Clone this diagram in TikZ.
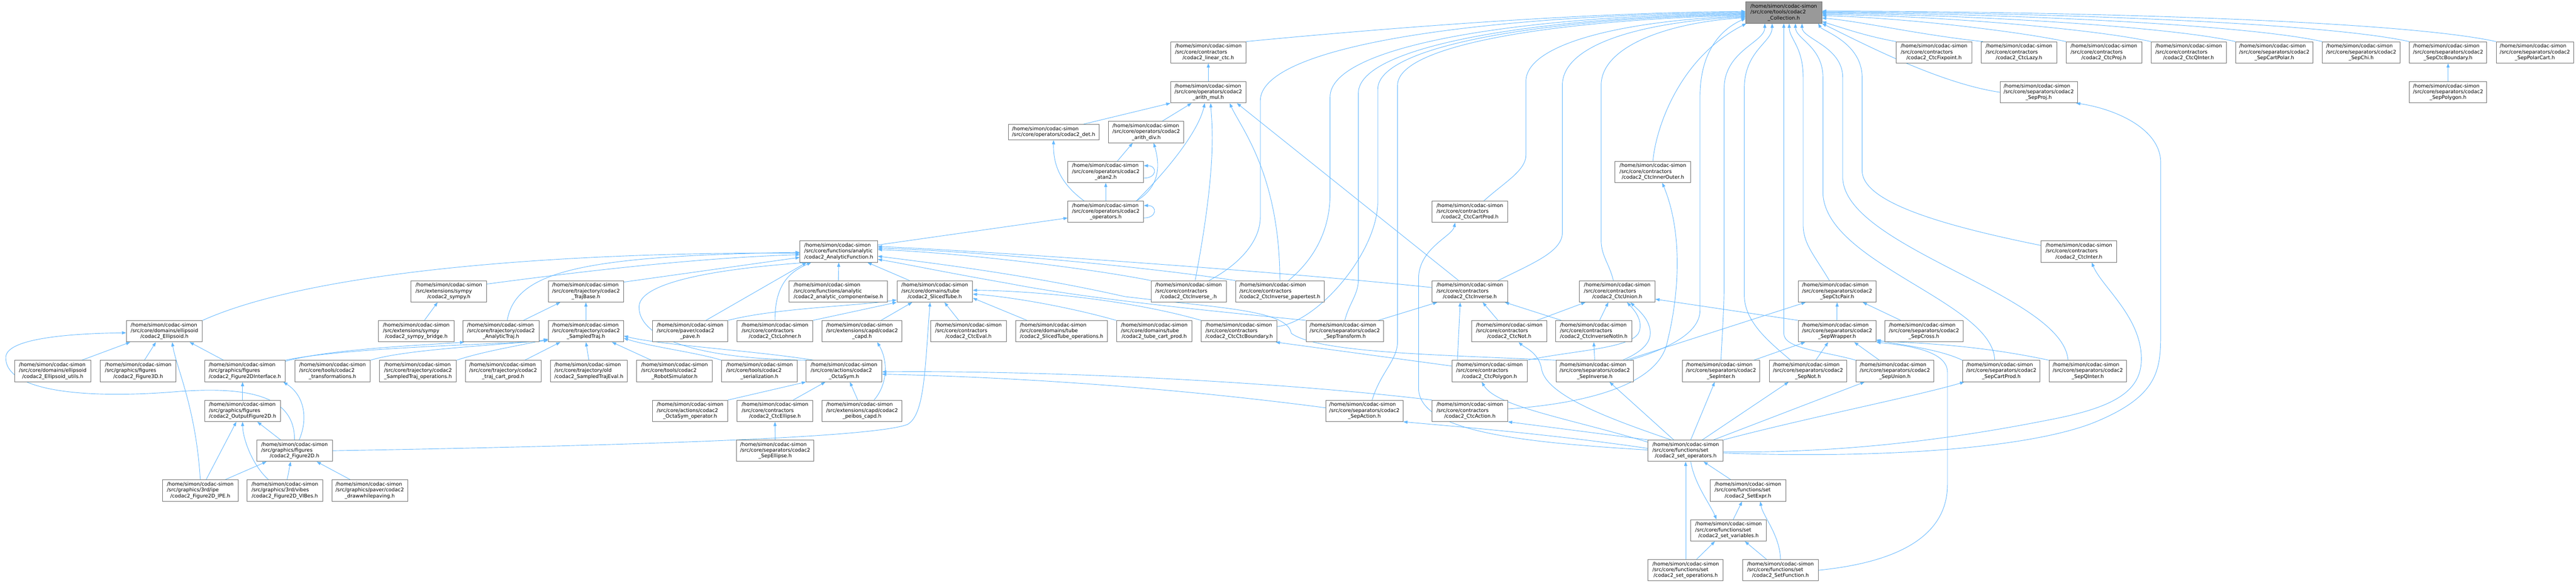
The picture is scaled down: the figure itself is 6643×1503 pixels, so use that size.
\documentclass[tikz,border=0pt]{standalone}
\usepackage{fontspec}
\setmainfont{DejaVu Sans}
\usetikzlibrary{arrows.meta,backgrounds}
\definecolor{edgeblue}{HTML}{63B8FF}
\definecolor{boxgray}{HTML}{6E6E6E}
\definecolor{rootgray}{HTML}{999999}
\newcommand{\doxfont}{\fontsize{13}{15}\selectfont}
\newcommand{\fl}[2]{\begin{tabular}{@{}l@{}}/home/simon/codac-simon\\#1\\\multicolumn{1}{@{}c@{}}{#2}\end{tabular}}

\begin{document}
\begin{tikzpicture}[x=1pt,y=-1pt,
    file/.style={draw=boxgray, line width=1.2pt, fill=white, minimum height=55pt, inner sep=0pt, font=\doxfont},
    dep/.style={draw=edgeblue, line width=1.2pt, -{Triangle[length=11pt,width=8pt]}}]
    \useasboundingbox (0,0) rectangle (6643,1503);

    % Text Node
    \node[file, fill=rootgray, minimum width=196pt] (root) at (4600,32.5) {\fl{/src/core/tools/codac2}{\_Collection.h}};
    % Text Node
    \node[file, minimum width=194pt] (linear) at (3116,135.25) {\fl{/src/core/contractors}{/codac2\_linear\_ctc.h}};
    \node[file, minimum width=195pt] (fixpoint) at (4987.5,135.25) {\fl{/src/core/contractors}{/codac2\_CtcFixpoint.h}};
    \node[file, minimum width=195pt] (lazy) at (5206.5,135.25) {\fl{/src/core/contractors}{/codac2\_CtcLazy.h}};
    \node[file, minimum width=195pt] (proj) at (5425.5,135.25) {\fl{/src/core/contractors}{/codac2\_CtcProj.h}};
    \node[file, minimum width=194pt] (qinter) at (5644,135.25) {\fl{/src/core/contractors}{/codac2\_CtcQInter.h}};
    \node[file, minimum width=200pt] (scartpolar) at (5865,135.25) {\fl{/src/core/separators/codac2}{\_SepCartPolar.h}};
    \node[file, minimum width=200pt] (schi) at (6089,135.25) {\fl{/src/core/separators/codac2}{\_SepChi.h}};
    \node[file, minimum width=200pt] (sctcbnd) at (6313,135.25) {\fl{/src/core/separators/codac2}{\_SepCtcBoundary.h}};
    \node[file, minimum width=200pt] (spolarcart) at (6537,135.25) {\fl{/src/core/separators/codac2}{\_SepPolarCart.h}};
    % Text Node
    \node[file, minimum width=194pt] (mul) at (3116,238) {\fl{/src/core/operators/codac2}{\_arith\_mul.h}};
    \node[file, minimum width=199pt] (sproj) at (5257.5,238) {\fl{/src/core/separators/codac2}{\_SepProj.h}};
    \node[file, minimum width=200pt] (spolygon) at (6313,238) {\fl{/src/core/separators/codac2}{\_SepPolygon.h}};
    % Text Node
    \node[file, minimum width=234pt, minimum height=40pt] (det) at (2717,340.75) {\begin{tabular}{@{}l@{}}/home/simon/codac-simon\\/src/core/operators/codac2\_det.h\end{tabular}};
    \node[file, minimum width=194pt] (div) at (2956,340.75) {\fl{/src/core/operators/codac2}{\_arith\_div.h}};
    % Text Node
    \node[file, minimum width=195pt] (atan) at (2851.5,443.5) {\fl{/src/core/operators/codac2}{\_atan2.h}};
    \node[file, minimum width=195pt] (innerouter) at (4262.5,443.5) {\fl{/src/core/contractors}{/codac2\_CtcInnerOuter.h}};
    % Text Node
    \node[file, minimum width=195pt] (ops) at (2851.5,546.25) {\fl{/src/core/operators/codac2}{\_operators.h}};
    \node[file, minimum width=195pt] (cartprod) at (3790.5,546.25) {\fl{/src/core/contractors}{/codac2\_CtcCartProd.h}};
    % Text Node
    \node[file, minimum width=200pt] (afunc) at (2163,649) {\fl{/src/core/functions/analytic}{/codac2\_AnalyticFunction.h}};
    \node[file, minimum width=196pt] (ctcinter) at (5361,649) {\fl{/src/core/contractors}{/codac2\_CtcInter.h}};
    % Text Node
    \node[file, minimum width=195pt] (sympy) at (1157.5,751.75) {\fl{/src/extensions/sympy}{/codac2\_sympy.h}};
    \node[file, minimum width=194pt] (trajbase) at (1511,751.75) {\fl{/src/core/trajectory/codac2}{\_TrajBase.h}};
    \node[file, minimum width=254pt] (compwise) at (2162,751.75) {\fl{/src/core/functions/analytic}{/codac2\_analytic\_componentwise.h}};
    \node[file, minimum width=195pt] (stube) at (2410.5,751.75) {\fl{/src/core/domains/tube}{/codac2\_SlicedTube.h}};
    \node[file, minimum width=194pt] (invu) at (3065,751.75) {\fl{/src/core/contractors}{/codac2\_CtcInverse\_.h}};
    \node[file, minimum width=229pt] (paper) at (3300.5,751.75) {\fl{/src/core/contractors}{/codac2\_CtcInverse\_papertest.h}};
    \node[file, minimum width=195pt] (inv) at (3790.5,751.75) {\fl{/src/core/contractors}{/codac2\_CtcInverse.h}};
    \node[file, minimum width=195pt] (cunion) at (4170.5,751.75) {\fl{/src/core/contractors}{/codac2\_CtcUnion.h}};
    \node[file, minimum width=201pt] (sctcpair) at (4737.5,751.75) {\fl{/src/core/separators/codac2}{\_SepCtcPair.h}};
    % Text Node
    \node[file, minimum width=196pt] (ellip) at (424,854.5) {\fl{/src/core/domains/ellipsoid}{/codac2\_Ellipsoid.h}};
    \node[file, minimum width=195pt] (sbridge) at (1073.5,854.5) {\fl{/src/extensions/sympy}{/codac2\_sympy\_bridge.h}};
    \node[file, minimum width=196pt] (atraj) at (1292,854.5) {\fl{/src/core/trajectory/codac2}{\_AnalyticTraj.h}};
    \node[file, minimum width=194pt] (straj) at (1511,854.5) {\fl{/src/core/trajectory/codac2}{\_SampledTraj.h}};
    \node[file, minimum width=195pt] (pave) at (1779.5,854.5) {\fl{/src/core/paver/codac2}{\_pave.h}};
    \node[file, minimum width=195pt] (lohner) at (1998.5,854.5) {\fl{/src/core/contractors}{/codac2\_CtcLohner.h}};
    \node[file, minimum width=206pt] (capd) at (2223,854.5) {\fl{/src/extensions/capd/codac2}{\_capd.h}};
    \node[file, minimum width=195pt] (eval) at (2497.5,854.5) {\fl{/src/core/contractors}{/codac2\_CtcEval.h}};
    \node[file, minimum width=237pt] (tubeops) at (2737.5,854.5) {\fl{/src/core/domains/tube}{/codac2\_SlicedTube\_operations.h}};
    \node[file, minimum width=195pt] (tubecart) at (2976.5,854.5) {\fl{/src/core/domains/tube}{/codac2\_tube\_cart\_prod.h}};
    \node[file, minimum width=195pt] (cbnd) at (3195.5,854.5) {\fl{/src/core/contractors}{/codac2\_CtcCtcBoundary.h}};
    \node[file, minimum width=200pt] (stransf) at (3468,854.5) {\fl{/src/core/separators/codac2}{\_SepTransform.h}};
    \node[file, minimum width=194pt] (cnot) at (3892,854.5) {\fl{/src/core/contractors}{/codac2\_CtcNot.h}};
    \node[file, minimum width=196pt] (notin) at (4110,854.5) {\fl{/src/core/contractors}{/codac2\_CtcInverseNotIn.h}};
    \node[file, minimum width=201pt] (swrap) at (4737.5,854.5) {\fl{/src/core/separators/codac2}{\_SepWrapper.h}};
    \node[file, minimum width=201pt] (scross) at (4961.5,854.5) {\fl{/src/core/separators/codac2}{\_SepCross.h}};
    % Text Node
    \node[file, minimum width=196pt] (elutils) at (136,957.25) {\fl{/src/core/domains/ellipsoid}{/codac2\_Ellipsoid\_utils.h}};
    \node[file, minimum width=195pt] (fig3d) at (356.5,957.25) {\fl{/src/graphics/figures}{/codac2\_Figure3D.h}};
    \node[file, minimum width=207pt] (f2dint) at (631.5,957.25) {\fl{/src/graphics/figures}{/codac2\_Figure2DInterface.h}};
    \node[file, minimum width=195pt] (transf) at (857.5,957.25) {\fl{/src/core/tools/codac2}{\_transformations.h}};
    \node[file, minimum width=198pt] (trajops) at (1078,957.25) {\fl{/src/core/trajectory/codac2}{\_SampledTraj\_operations.h}};
    \node[file, minimum width=195pt] (trajcart) at (1297.5,957.25) {\fl{/src/core/trajectory/codac2}{\_traj\_cart\_prod.h}};
    \node[file, minimum width=199pt] (trajeval) at (1518.5,957.25) {\fl{/src/core/trajectory/old}{/codac2\_SampledTrajEval.h}};
    \node[file, minimum width=195pt] (robot) at (1739.5,957.25) {\fl{/src/core/tools/codac2}{\_RobotSimulator.h}};
    \node[file, minimum width=195pt] (serial) at (1958.5,957.25) {\fl{/src/core/tools/codac2}{\_serialization.h}};
    \node[file, minimum width=195pt] (octa) at (2176.5,957.25) {\fl{/src/core/actions/codac2}{\_OctaSym.h}};
    \node[file, minimum width=194pt] (polygon) at (3841,957.25) {\fl{/src/core/contractors}{/codac2\_CtcPolygon.h}};
    \node[file, minimum width=199pt] (sinverse) at (4112.5,957.25) {\fl{/src/core/separators/codac2}{\_SepInverse.h}};
    \node[file, minimum width=200pt] (sinter) at (4438,957.25) {\fl{/src/core/separators/codac2}{\_SepInter.h}};
    \node[file, minimum width=199pt] (snot) at (4662.5,957.25) {\fl{/src/core/separators/codac2}{\_SepNot.h}};
    \node[file, minimum width=201pt] (sunion) at (4886.5,957.25) {\fl{/src/core/separators/codac2}{\_SepUnion.h}};
    \node[file, minimum width=200pt] (scartprod) at (5161,957.25) {\fl{/src/core/separators/codac2}{\_SepCartProd.h}};
    \node[file, minimum width=200pt] (sqinter) at (5384,957.25) {\fl{/src/core/separators/codac2}{\_SepQInter.h}};
    % Text Node
    \node[file, minimum width=195pt] (outfig) at (625.5,1060) {\fl{/src/graphics/figures}{/codac2\_OutputFigure2D.h}};
    \node[file, minimum width=195pt] (octaop) at (1779.5,1060) {\fl{/src/core/actions/codac2}{\_OctaSym\_operator.h}};
    \node[file, minimum width=195pt] (cellipse) at (1998.5,1060) {\fl{/src/core/contractors}{/codac2\_CtcEllipse.h}};
    \node[file, minimum width=206pt] (peibos) at (2223,1060) {\fl{/src/extensions/capd/codac2}{\_peibos\_capd.h}};
    \node[file, minimum width=199pt] (saction) at (3518.5,1060) {\fl{/src/core/separators/codac2}{\_SepAction.h}};
    \node[file, minimum width=195pt] (caction) at (3790.5,1060) {\fl{/src/core/contractors}{/codac2\_CtcAction.h}};
    % Text Node
    \node[file, minimum width=195pt] (fig2d) at (759.5,1162.75) {\fl{/src/graphics/figures}{/codac2\_Figure2D.h}};
    \node[file, minimum width=200pt] (sellipse) at (1999,1162.75) {\fl{/src/core/separators/codac2}{\_SepEllipse.h}};
    \node[file, minimum width=194pt] (setopr) at (4347,1162.75) {\fl{/src/core/functions/set}{/codac2\_set\_operators.h}};
    % Text Node
    \node[file, minimum width=195pt] (ipe) at (516.5,1265.5) {\fl{/src/graphics/3rd/ipe}{/codac2\_Figure2D\_IPE.h}};
    \node[file, minimum width=195pt] (vibes) at (734.5,1265.5) {\fl{/src/graphics/3rd/vibes}{/codac2\_Figure2D\_VIBes.h}};
    \node[file, minimum width=195pt] (dwp) at (953.5,1265.5) {\fl{/src/graphics/paver/codac2}{\_drawwhilepaving.h}};
    \node[file, minimum width=195pt] (setexpr) at (4507.5,1265.5) {\fl{/src/core/functions/set}{/codac2\_SetExpr.h}};
    % Text Node
    \node[file, minimum width=195pt] (setvars) at (4457.5,1368.25) {\fl{/src/core/functions/set}{/codac2\_set\_variables.h}};
    % Text Node
    \node[file, minimum width=194pt] (setops) at (4347,1471) {\fl{/src/core/functions/set}{/codac2\_set\_operations.h}};
    \node[file, minimum width=195pt] (setfunc) at (4591.5,1471) {\fl{/src/core/functions/set}{/codac2\_SetFunction.h}};

    \begin{scope}[on background layer]
    \fill[white] (0,0) rectangle (6643,1503);

    % Curve Lines: into the collection, from the left
    \draw[dep] (linear.north east) .. controls (3600,70) and (4100,32) .. ([yshift=3pt]root.west);
    \draw[dep] ([xshift=53pt]invu.north) .. controls (3200,680) and (3250,620) .. (3250,560) -- (3250,260) .. controls (3250,120) and (3800,40) .. ([yshift=1pt]root.west);
    \draw[dep] ([xshift=22pt]paper.north) .. controls (3400,660) and (3430,580) .. (3430,500) -- (3430,250) .. controls (3430,120) and (3900,42) .. ([yshift=-1pt]root.west);
    \draw[dep] (stransf.north) .. controls (3480,780) and (3503,760) .. (3503,720) -- (3503,240) .. controls (3503,120) and (3950,45) .. ([yshift=-3pt]root.west);
    \draw[dep] ([yshift=12pt]cbnd.east) .. controls (3400,830) and (3553,650) .. (3553,520) -- (3553,230) .. controls (3553,115) and (4000,47) .. ([yshift=-5pt]root.west);
    \draw[dep] ([xshift=20pt]saction.north) .. controls (3560,960) and (3604,930) .. (3604,880) -- (3604,220) .. controls (3604,110) and (4050,50) .. ([yshift=-7pt]root.west);
    \draw[dep] ([xshift=36pt]cartprod.north) .. controls (3880,470) and (3935,440) .. (3935,400) -- (3935,210) .. controls (3935,110) and (4200,52) .. ([yshift=-9pt]root.west);
    \draw[dep] ([xshift=73pt]inv.north) .. controls (3950,680) and (4029,650) .. (4029,600) -- (4029,220) .. controls (4029,110) and (4250,55) .. ([yshift=-11pt]root.west);
    \draw[dep] ([xshift=-10pt]cunion.north) .. controls (4150,680) and (4129,660) .. (4129,620) -- (4129,220) .. controls (4129,120) and (4300,58) .. ([yshift=-13pt]root.west);
    \draw[dep] ([xshift=-10pt]sinverse.north east) .. controls (4300,900) and (4384,860) .. (4384,800) -- (4384,250) .. controls (4384,120) and (4450,70) .. ([yshift=-15pt]root.west);
    % Curve Lines: into the collection, from below
    \draw[dep] (innerouter.north) .. controls (4270,330) and (4330,150) .. ([xshift=2pt]root.south west);
    \draw[dep] (sinter.north) .. controls (4440,880) and (4446,800) .. (4446,740) -- (4446,230) .. controls (4446,130) and (4551,110) .. ([xshift=-49pt]root.south);
    \draw[dep] ([xshift=-45pt]snot.north) .. controls (4560,880) and (4498,830) .. (4498,760) -- (4498,230) .. controls (4498,130) and (4570,110) .. ([xshift=-30pt]root.south);
    \draw[dep] (sunion.north west) .. controls (4700,905) and (4600,900) .. (4600,860) -- (root.south);
    \draw[dep] ([xshift=-20pt]sctcpair.north) .. controls (4680,660) and (4650,630) .. (4650,580) -- (4650,200) .. controls (4650,120) and (4614,100) .. ([xshift=14pt]root.south);
    \draw[dep] ([xshift=-17pt]scartprod.north) .. controls (5140,780) and (4710,680) .. (4701,500) -- (4701,200) .. controls (4701,120) and (4630,100) .. ([xshift=30pt]root.south);
    \draw[dep] ([xshift=-51pt]sqinter.north) .. controls (5320,760) and (4760,640) .. (4752,460) -- (4752,200) .. controls (4752,120) and (4647,100) .. ([xshift=47pt]root.south);
    \draw[dep] ([yshift=16pt]ctcinter.west) .. controls (5000,580) and (4802,520) .. (4802,440) -- (4802,200) .. controls (4802,110) and (4700,80) .. ([xshift=-10pt]root.south east);
    % Curve Lines: into the collection, from the right
    \draw[dep] (fixpoint.north west) .. controls (4820,95) and (4760,75) .. ([yshift=5pt]root.south east);
    \draw[dep] ([xshift=5pt]lazy.north west) .. controls (4950,90) and (4800,55) .. ([yshift=-14pt]root.east);
    \draw[dep] (proj.north west) .. controls (5200,80) and (4900,45) .. ([yshift=-8pt]root.east);
    \draw[dep] (qinter.north west) .. controls (5400,75) and (5000,40) .. ([yshift=-5pt]root.east);
    \draw[dep] (scartpolar.north west) .. controls (5600,70) and (5100,38) .. ([yshift=-2pt]root.east);
    \draw[dep] (schi.north west) .. controls (5800,65) and (5200,35) .. (root.east);
    \draw[dep] (sctcbnd.north west) .. controls (6000,60) and (5300,32) .. ([yshift=2pt]root.east);
    \draw[dep] (spolarcart.north west) .. controls (6200,55) and (5400,30) .. ([yshift=4pt]root.east);
    \draw[dep] (sproj.west) .. controls (5000,215) and (4800,110) .. (root.south east);

    % Curve Lines: operators
    \draw[dep] (mul.north) -- (linear.south);
    \draw[dep] ([xshift=-40pt]det.north east) -- (mul.south west);
    \draw[dep] ([xshift=41pt]div.north) -- ([xshift=-43pt]mul.south);
    \draw[dep] ([xshift=-19pt]ops.north east) .. controls (3010,440) and (3090,340) .. ([xshift=-9pt]mul.south);
    \draw[dep] ([xshift=17pt]invu.north) .. controls (3140,420) and (3125,320) .. ([xshift=6pt]mul.south);
    \draw[dep] (paper.north) .. controls (3300,450) and (3200,330) .. ([xshift=55pt]mul.south);
    \draw[dep] ([xshift=-29pt]inv.north) -- ([xshift=-24pt]mul.south east);
    \draw[dep] ([xshift=30pt]atan.north) -- ([xshift=-35pt]div.south);
    \draw[dep] ([xshift=-19pt]ops.north east) .. controls (2995,480) and (2990,420) .. ([xshift=19pt]div.south);
    \draw[dep] ([xshift=-56pt]ops.north) .. controls (2730,470) and (2716,420) .. (det.south);
    \draw[dep] (ops.north) -- (atan.south);
    \draw[dep] ([yshift=-16pt]atan.east) .. controls +(35,0) and +(35,0) .. ([yshift=16pt]atan.east);
    \draw[dep] ([yshift=-16pt]ops.east) .. controls +(35,0) and +(35,0) .. ([yshift=16pt]ops.east);
    \draw[dep] ([yshift=17pt]afunc.east) -- ([yshift=-16pt]ops.west);

    % Curve Lines: analytic functions and tubes
    \draw[dep] (ellip.north east) .. controls (850,680) and (1600,650) .. ([yshift=-4pt]afunc.west);
    \draw[dep] ([yshift=19pt]sympy.east) .. controls (1500,700) and (1800,665) .. ([yshift=-8pt]afunc.west);
    \draw[dep] ([xshift=16pt]atraj.north) .. controls (1330,700) and (1500,660) .. ([yshift=-2pt]afunc.west);
    \draw[dep] ([yshift=-4pt]trajbase.north east) -- ([yshift=-15pt]afunc.west);
    \draw[dep] ([xshift=41pt]pave.north) -- ([xshift=-83pt]afunc.south);
    \draw[dep] (lohner.north) .. controls (1998,730) and (2040,700) .. ([xshift=-71pt]afunc.south);
    \draw[dep] (compwise.north) -- (afunc.south);
    \draw[dep] ([xshift=-65pt]stube.north) -- ([xshift=74pt]afunc.south);
    \draw[dep] (octa.north west) .. controls (1760,925) and (1645,860) .. (1648,790) .. controls (1652,720) and (1900,690) .. ([xshift=-80pt]afunc.south);
    \draw[dep] (invu.north west) .. controls (2800,690) and (2450,650) .. ([yshift=5pt]afunc.east);
    \draw[dep] (paper.north west) .. controls (2900,680) and (2450,645) .. ([yshift=9pt]afunc.east);
    \draw[dep] ([yshift=10pt]inv.west) .. controls (3300,700) and (2500,645) .. ([yshift=13pt]afunc.east);
    \draw[dep] (stransf.north west) .. controls (3100,800) and (2800,770) .. (2600,731) .. controls (2450,705) and (2330,680) .. ([yshift=-20pt]afunc.east);
    \draw[dep] (sinverse.north west) .. controls (3700,915) and (3400,910) .. (3330,860) .. controls (3320,800) and (3150,795) .. (2900,765) .. controls (2700,720) and (2500,690) .. ([yshift=-12pt]afunc.east);
    \draw[dep] ([xshift=30pt]tubeops.north west) -- ([yshift=-17pt]stube.east);
    \draw[dep] (tubecart.north west) .. controls (2750,790) and (2600,765) .. ([yshift=-7pt]stube.east);
    \draw[dep] (cbnd.north west) .. controls (2900,770) and (2650,750) .. ([yshift=3pt]stube.east);
    \draw[dep] ([xshift=-25pt]eval.north) -- ([xshift=25pt]stube.south);
    \draw[dep] ([xshift=49pt]capd.north) -- ([xshift=-58pt]stube.south);
    \draw[dep] (lohner.north east) -- (stube.south west);
    \draw[dep] (pave.north east) .. controls (2000,795) and (2200,790) .. ([yshift=6pt]stube.south west);
    \draw[dep] (fig2d.east) .. controls (1600,1150) and (2250,1130) .. (2340,1095) .. controls (2385,1070) and (2385,950) .. ([xshift=-12pt]stube.south);

    % Curve Lines: trajectories
    \draw[dep] (straj.north) -- (trajbase.south);
    \draw[dep] ([xshift=58pt]atraj.north) -- ([xshift=-66pt]trajbase.south);
    \draw[dep] ([xshift=56pt]trajcart.north) -- ([xshift=-66pt]straj.south);
    \draw[dep] (trajeval.north) -- (straj.south);
    \draw[dep] ([xshift=-60pt]robot.north) -- ([xshift=67pt]straj.south);
    \draw[dep] (serial.north west) .. controls (1800,910) and (1680,895) .. ([yshift=-18pt]straj.east);
    \draw[dep] ([xshift=20pt]octa.north west) .. controls (1950,905) and (1700,890) .. ([yshift=-12pt]straj.east);
    \draw[dep] (trajops.north east) .. controls (1250,905) and (1350,890) .. ([yshift=-20pt]straj.west);
    \draw[dep] (transf.north east) .. controls (1050,900) and (1300,890) .. ([yshift=-22pt]straj.west);
    \draw[dep] (f2dint.north east) .. controls (900,895) and (1300,888) .. ([yshift=-24pt]straj.west);
    \draw[dep] ([yshift=-3pt]f2dint.north east) .. controls (850,900) and (1100,890) .. ([xshift=4pt]atraj.south west);

    % Curve Lines: ellipsoids and figures
    \draw[dep] ([xshift=75pt]elutils.north) -- ([xshift=-88pt]ellip.south);
    \draw[dep] ([xshift=16pt]fig3d.north) -- ([xshift=-22pt]ellip.south);
    \draw[dep] (ipe.north) .. controls (505,1050) and (455,950) .. ([xshift=20pt]ellip.south);
    \draw[dep] ([xshift=-55pt]f2dint.north) -- ([xshift=65pt]ellip.south);
    \draw[dep] (fig2d.north) .. controls (760,1030) and (660,995) .. (460,1010) .. controls (220,1030) and (10,1010) .. (15,920) .. controls (20,870) and (200,860) .. ([yshift=-4pt]ellip.west);
    \draw[dep] (outfig.north) -- ([xshift=-6pt]f2dint.south);
    \draw[dep] ([xshift=12pt]fig2d.north) .. controls (795,1080) and (785,1020) .. ([xshift=-5pt]f2dint.south east);
    \draw[dep] ([xshift=-36pt]fig2d.north) -- ([xshift=38pt]outfig.south);
    \draw[dep] ([xshift=15pt]ipe.north) -- ([xshift=-16pt]outfig.south);
    \draw[dep] ([xshift=-42pt]vibes.north) .. controls (650,1200) and (626,1130) .. (outfig.south);
    \draw[dep] ([xshift=64pt]ipe.north) -- ([xshift=-72pt]fig2d.south);
    \draw[dep] ([xshift=6pt]vibes.north) -- ([xshift=-10pt]fig2d.south);
    \draw[dep] ([xshift=-50pt]dwp.north) -- ([xshift=57pt]fig2d.south);
    \draw[dep] ([xshift=21pt]sbridge.north) -- ([xshift=-29pt]sympy.south);

    % Curve Lines: actions
    \draw[dep] (octaop.north east) -- (octa.south west);
    \draw[dep] ([xshift=47pt]cellipse.north) -- ([xshift=-48pt]octa.south);
    \draw[dep] ([xshift=-11pt]peibos.north) -- ([xshift=15pt]octa.south);
    \draw[dep] ([xshift=31pt]peibos.north) .. controls (2290,990) and (2290,930) .. ([xshift=39pt]capd.south);
    \draw[dep] (sellipse.north) -- (cellipse.south);
    \draw[dep] (caction.north west) .. controls (3300,985) and (2700,955) .. ([yshift=-2pt]octa.east);
    \draw[dep] ([yshift=8pt]saction.west) .. controls (3100,1010) and (2700,975) .. ([yshift=-8pt]octa.east);

    % Curve Lines: contractors and separators
    \draw[dep] (spolygon.north) -- (sctcbnd.south);
    \draw[dep] (swrap.north) -- (sctcpair.south);
    \draw[dep] ([xshift=-60pt]scross.north) -- ([xshift=66pt]sctcpair.south);
    \draw[dep] ([xshift=-20pt]sinverse.north east) -- ([xshift=-81pt]sctcpair.south);
    \draw[dep] (swrap.north west) -- ([yshift=-20pt]cunion.east);
    \draw[dep] ([xshift=-26pt]cnot.north east) -- ([xshift=16pt]cunion.south west);
    \draw[dep] ([xshift=15pt]notin.north) -- ([xshift=-23pt]cunion.south);
    \draw[dep] ([xshift=-29pt]cnot.north) -- ([xshift=33pt]inv.south);
    \draw[dep] ([xshift=15pt]notin.north west) -- ([xshift=-8pt]inv.south east);
    \draw[dep] ([xshift=-14pt]stransf.north east) -- ([xshift=14pt]inv.south west);
    \draw[dep] ([xshift=15pt]polygon.north west) -- ([xshift=-25pt]inv.south);
    \draw[dep] (sinverse.north) -- (notin.south);
    \draw[dep] ([yshift=13pt]polygon.west) -- ([xshift=-4pt]cbnd.south east);
    \draw[dep] (polygon.north east) .. controls (4050,905) and (4200,900) .. (4225,860) .. controls (4240,830) and (4215,800) .. ([xshift=25pt]cunion.south);
    \draw[dep] ([xshift=-28pt]sinverse.north east) .. controls (4240,905) and (4260,880) .. (4255,850) .. controls (4250,820) and (4225,800) .. ([xshift=34pt]cunion.south);
    \draw[dep] ([xshift=-16pt]sinter.north east) -- ([xshift=19pt]swrap.south west);
    \draw[dep] ([xshift=20pt]snot.north) -- ([xshift=-23pt]swrap.south);
    \draw[dep] ([xshift=-40pt]sunion.north) -- ([xshift=44pt]swrap.south);
    \draw[dep] (scartprod.north west) .. controls (5000,900) and (4900,890) .. ([yshift=6pt]swrap.south east);
    \draw[dep] (sqinter.north west) .. controls (5100,890) and (4950,885) .. ([yshift=3pt]swrap.south east);
    \draw[dep] ([yshift=5pt]caction.east) .. controls (4100,1040) and (4280,990) .. (4300,880) .. controls (4330,760) and (4340,600) .. ([xshift=24pt]innerouter.south);

    % Curve Lines: set functions
    \draw[dep] ([xshift=-38pt]setopr.north) .. controls (4150,1080) and (3985,1020) .. (3975,950) .. controls (3968,910) and (3930,895) .. ([xshift=24pt]cnot.south);
    \draw[dep] ([xshift=-31pt]setopr.north) -- ([xshift=38pt]sinverse.south);
    \draw[dep] ([xshift=13pt]setopr.north) -- ([xshift=-16pt]sinter.south);
    \draw[dep] ([xshift=43pt]setopr.north) -- ([xshift=-50pt]snot.south);
    \draw[dep] ([xshift=72pt]setopr.north) -- ([xshift=-78pt]sunion.south);
    \draw[dep] (setopr.north east) .. controls (4650,1080) and (4950,1020) .. ([xshift=5pt]scartprod.south west);
    \draw[dep] (setopr.north west) -- (caction.south east);
    \draw[dep] ([yshift=-6pt]setopr.north west) .. controls (4050,1080) and (3860,1050) .. ([xshift=-20pt]polygon.south);
    \draw[dep] ([yshift=6pt]setopr.west) .. controls (4000,1120) and (3750,1100) .. (saction.south east);
    \draw[dep] ([yshift=2pt]setopr.west) .. controls (3900,1140) and (3658,1110) .. (3658,1000) -- (3658,720) .. controls (3658,640) and (3745,610) .. ([xshift=-38pt]cartprod.south);
    \draw[dep] ([yshift=-3pt]setopr.east) .. controls (4800,1170) and (5100,1120) .. (5300,1080) .. controls (5450,1050) and (5520,1010) .. (5522,930) .. controls (5525,820) and (5420,740) .. ([xshift=33pt]ctcinter.south);
    \draw[dep] ([yshift=-6pt]setopr.east) .. controls (4900,1185) and (5250,1150) .. (5400,1090) .. controls (5572,1020) and (5572,950) .. (5572,850) -- (5572,420) .. controls (5572,330) and (5450,280) .. ([xshift=-4pt]sproj.south east);
    \draw[dep] (setfunc.east) .. controls (4900,1450) and (5022,1380) .. (5022,1250) -- (5022,960) .. controls (5022,900) and (4900,890) .. (swrap.south east);
    \draw[dep] ([xshift=-44pt]setexpr.north) -- ([xshift=46pt]setopr.south);
    \draw[dep] ([xshift=13pt]setopr.south) .. controls (4370,1250) and (4410,1300) .. ([xshift=-31pt]setvars.north);
    \draw[dep, line width=0.6pt] (setops.north) -- (setopr.south);
    \draw[dep] ([xshift=12pt]setvars.north) -- ([xshift=-15pt]setexpr.south);
    \draw[dep] (setfunc.north) .. controls (4590,1380) and (4545,1330) .. ([xshift=32pt]setexpr.south);
    \draw[dep] ([xshift=28pt]setops.north) -- ([xshift=-35pt]setvars.south);
    \draw[dep] ([xshift=-36pt]setfunc.north) -- ([xshift=42pt]setvars.south);
    \end{scope}
\end{tikzpicture}
\end{document}
